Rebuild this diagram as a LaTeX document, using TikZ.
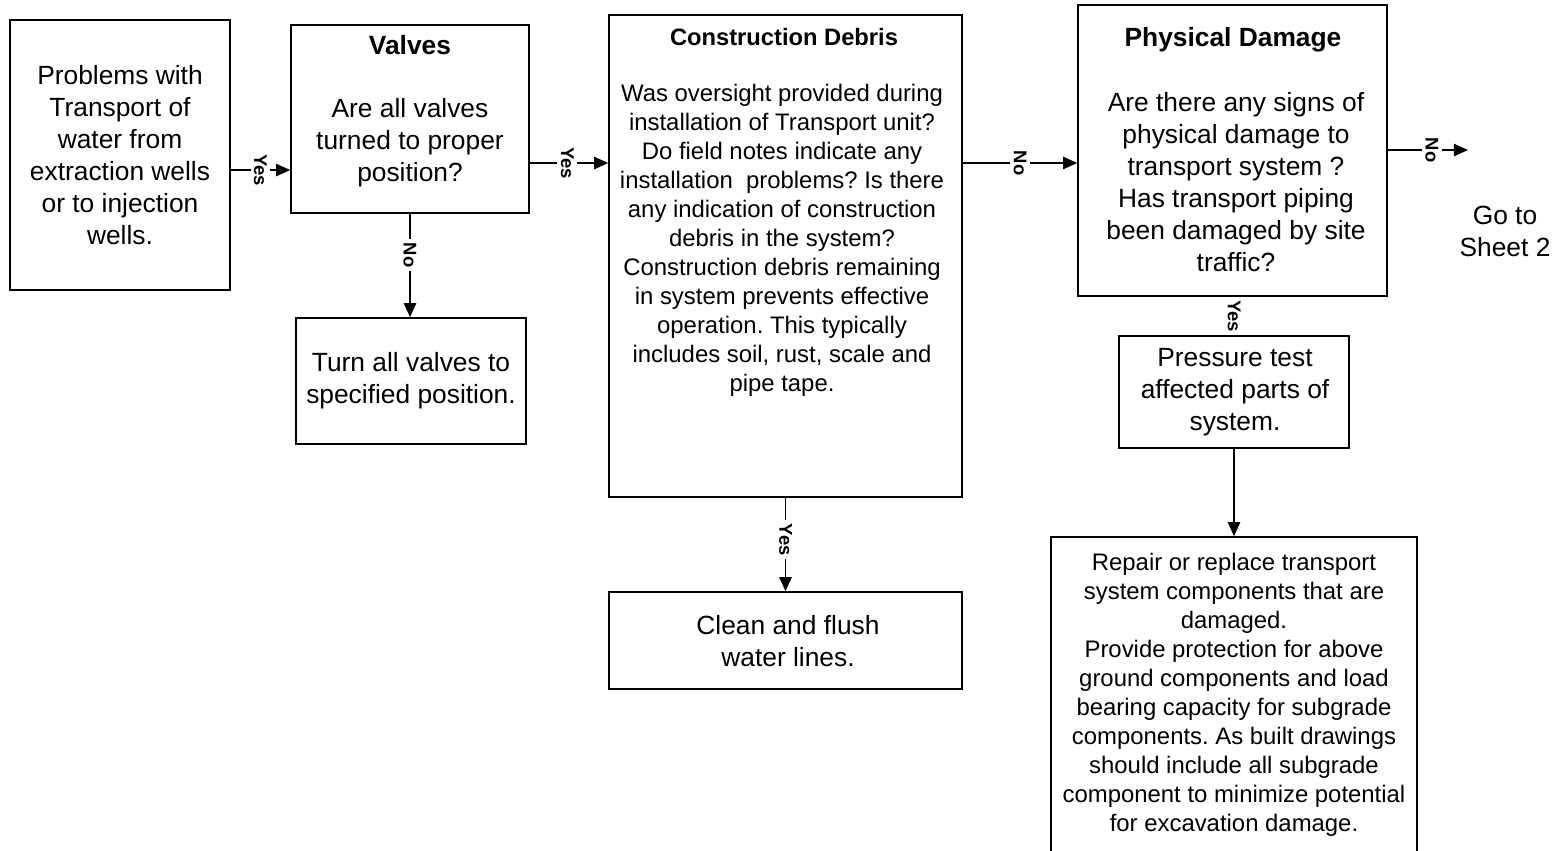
\documentclass[tikz,border=0pt]{standalone}
\usepackage{fontspec}
\setmainfont{Liberation Sans}
\usetikzlibrary{arrows.meta, fit}
\frenchspacing

\begin{document}
\begin{tikzpicture}[x=0.02cm, y=-0.02cm, >={Triangle[length=8pt,width=7pt]},
                    line width=0.9pt]
  \tikzstyle{box}=[draw, line width=0.9pt, inner sep=0pt]
  \tikzstyle{txt}=[align=center, inner sep=0pt, font=\fontsize{15}{18.2}\selectfont]
  \tikzstyle{small}=[align=center, inner sep=0pt, font=\fontsize{13.6}{16.5}\selectfont]
  \tikzstyle{head}=[inner sep=0pt, font=\fontsize{15}{18}\selectfont\bfseries]
  \tikzstyle{ans}=[fill=white, rotate=-90, inner sep=2pt, font=\fontsize{10.5}{10.5}\selectfont\bfseries]

  \useasboundingbox (0,0) rectangle (1555,850);

  % boxes
  \node[box, fit={(10,20) (230,290)}]     (prob)  {};
  \node[box, fit={(291,25) (529,213)}]    (valv)  {};
  \node[box, fit={(296,318) (526,444)}]   (turn)  {};
  \node[box, fit={(609,15) (962,497)}]    (debr)  {};
  \node[box, fit={(609,592) (962,689)}]   (clean) {};
  \node[box, fit={(1078,5) (1387,296)}]   (phys)  {};
  \node[box, fit={(1119,336) (1349,448)}] (press) {};
  \node[box, fit={(1051,537) (1417,855)}] (rep)   {};
  \coordinate (goto) at (1468,150);

  % texts
  \node[txt] at (120,155) {Problems with\\Transport of\\water from\\extraction wells\\or to injection\\wells.};
  \node[head] at (410,45) {Valves};
  \node[txt] at (410,143) {Are all valves\\turned to proper\\position?};
  \node[txt] at (411,381) {Turn all valves to\\specified position.};
  \node[head, font=\fontsize{13.5}{16}\selectfont\bfseries] at (784,37) {Construction Debris};
  \node[small] at (782,240) {Was oversight provided during\\installation of Transport unit?\\Do field notes indicate any\\installation\ \ problems? Is there\\any indication of construction\\debris in the system?\\Construction debris remaining\\in system prevents effective\\operation. This typically\\includes soil, rust, scale and\\pipe tape.};
  \node[txt] at (788,641) {Clean and flush\\water lines.};
  \node[head] at (1233,40) {Physical Damage};
  \node[txt] at (1236,182) {Are there any signs of\\physical damage to\\transport system ?\\Has transport piping\\been damaged by site\\traffic?};
  \node[txt] at (1235,392) {Pressure test\\affected parts of\\system.};
  \node[small] at (1234,695) {Repair or replace transport\\system components that are\\damaged.\\Provide protection for above\\ground components and load\\bearing capacity for subgrade\\components. As built drawings\\should include all subgrade\\component to minimize potential\\for excavation damage.};
  \node[txt] (sheet) at (1505,231) {Go to\\Sheet 2};

  % connectors
  \draw[->] (prob.east |- 0,170) -- node[ans] {Yes} (valv.west |- 0,170);
  \draw[->] (valv.east |- 0,163) -- node[ans, pos=.48] {Yes} (debr.west |- 0,163);
  \draw[->] (debr.east |- 0,163) -- node[ans] {No} (phys.west |- 0,163);
  \draw[->] (phys.east |- 0,150) -- node[ans, pos=.55] {No} (goto);
  \draw[->] (valv.south) -- node[ans, pos=.4] {No} (turn.north -| valv.south);
  \draw[->] (debr.south) -- node[ans, pos=.45] {Yes} (clean.north);
  \draw (phys.south -| press.north) -- node[ans] {Yes} (press.north);
  \draw[->] (press.south) -- (rep.north -| press.south);
\end{tikzpicture}
\end{document}
